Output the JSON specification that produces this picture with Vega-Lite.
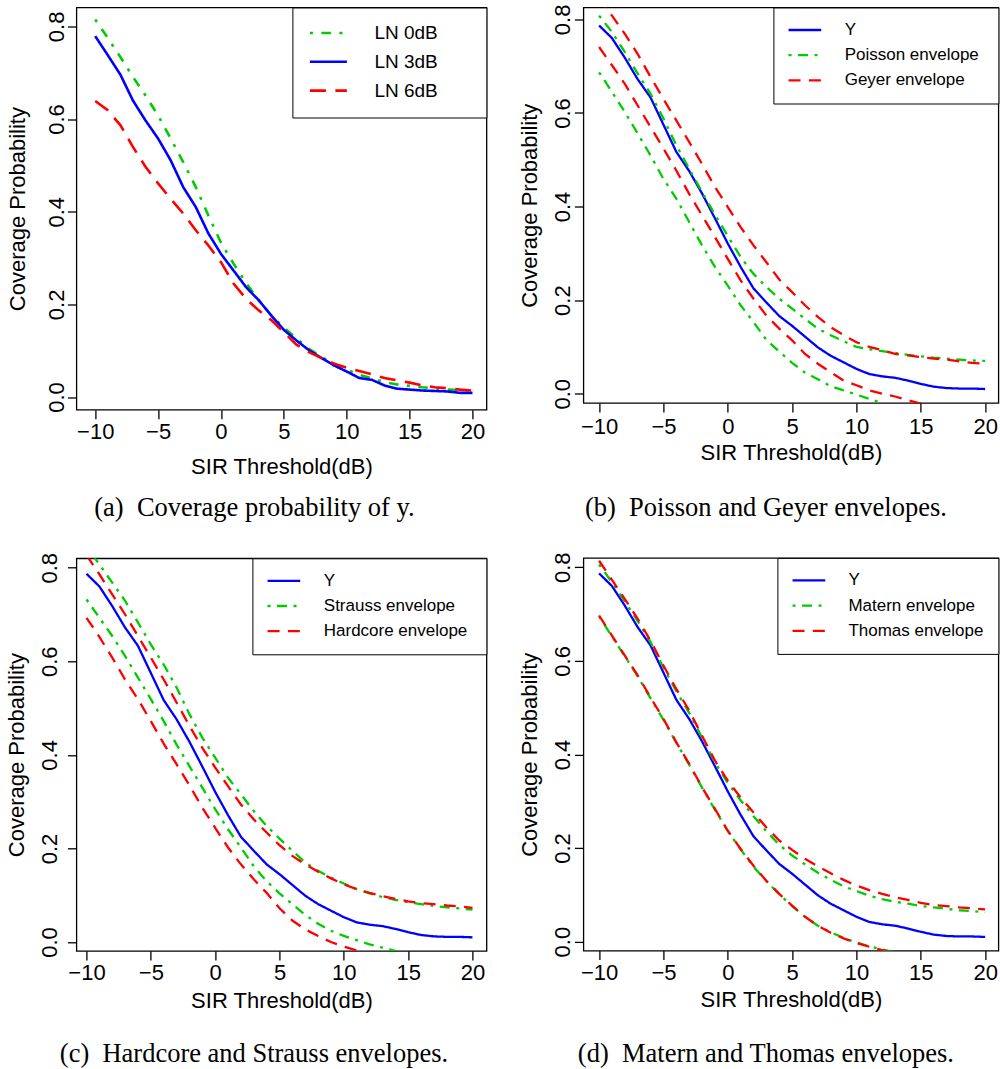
{
"$schema": "https://vega.github.io/schema/vega-lite/v6.json",
"background": "white",
"padding": {"left": 4.4, "top": 2.5, "right": 0, "bottom": 0},
"resolve": {"scale": {"x": "independent", "y": "independent", "color": "independent", "strokeDash": "independent"}, "legend": {"color": "independent", "strokeDash": "independent"}},
"datasets": {
"a": [
{"s":"LN 0dB","x":-10,"v":0.815},{"s":"LN 0dB","x":-9,"v":0.775},{"s":"LN 0dB","x":-8,"v":0.734},{"s":"LN 0dB","x":-7,"v":0.691},{"s":"LN 0dB","x":-6,"v":0.651},{"s":"LN 0dB","x":-5,"v":0.608},{"s":"LN 0dB","x":-4,"v":0.558},{"s":"LN 0dB","x":-3,"v":0.507},{"s":"LN 0dB","x":-2,"v":0.453},{"s":"LN 0dB","x":-1,"v":0.392},{"s":"LN 0dB","x":0,"v":0.333},{"s":"LN 0dB","x":1,"v":0.288},{"s":"LN 0dB","x":2,"v":0.246},{"s":"LN 0dB","x":3,"v":0.209},{"s":"LN 0dB","x":4,"v":0.176},{"s":"LN 0dB","x":5,"v":0.150},{"s":"LN 0dB","x":6,"v":0.126},{"s":"LN 0dB","x":7,"v":0.104},{"s":"LN 0dB","x":8,"v":0.086},{"s":"LN 0dB","x":9,"v":0.072},{"s":"LN 0dB","x":10,"v":0.059},{"s":"LN 0dB","x":11,"v":0.048},{"s":"LN 0dB","x":12,"v":0.040},{"s":"LN 0dB","x":13,"v":0.032},{"s":"LN 0dB","x":14,"v":0.027},{"s":"LN 0dB","x":15,"v":0.024},{"s":"LN 0dB","x":16,"v":0.021},{"s":"LN 0dB","x":17,"v":0.019},{"s":"LN 0dB","x":18,"v":0.016},{"s":"LN 0dB","x":19,"v":0.015},{"s":"LN 0dB","x":20,"v":0.014},
{"s":"LN 3dB","x":-10,"v":0.779},{"s":"LN 3dB","x":-9,"v":0.738},{"s":"LN 3dB","x":-8,"v":0.696},{"s":"LN 3dB","x":-7,"v":0.640},{"s":"LN 3dB","x":-6,"v":0.597},{"s":"LN 3dB","x":-5,"v":0.558},{"s":"LN 3dB","x":-4,"v":0.511},{"s":"LN 3dB","x":-3,"v":0.453},{"s":"LN 3dB","x":-2,"v":0.410},{"s":"LN 3dB","x":-1,"v":0.353},{"s":"LN 3dB","x":0,"v":0.309},{"s":"LN 3dB","x":1,"v":0.273},{"s":"LN 3dB","x":2,"v":0.237},{"s":"LN 3dB","x":3,"v":0.209},{"s":"LN 3dB","x":4,"v":0.176},{"s":"LN 3dB","x":5,"v":0.145},{"s":"LN 3dB","x":6,"v":0.122},{"s":"LN 3dB","x":7,"v":0.101},{"s":"LN 3dB","x":8,"v":0.084},{"s":"LN 3dB","x":9,"v":0.068},{"s":"LN 3dB","x":10,"v":0.055},{"s":"LN 3dB","x":11,"v":0.041},{"s":"LN 3dB","x":12,"v":0.037},{"s":"LN 3dB","x":13,"v":0.025},{"s":"LN 3dB","x":14,"v":0.018},{"s":"LN 3dB","x":15,"v":0.016},{"s":"LN 3dB","x":16,"v":0.014},{"s":"LN 3dB","x":17,"v":0.013},{"s":"LN 3dB","x":18,"v":0.012},{"s":"LN 3dB","x":19,"v":0.009},{"s":"LN 3dB","x":20,"v":0.009},
{"s":"LN 6dB","x":-10,"v":0.639},{"s":"LN 6dB","x":-9,"v":0.619},{"s":"LN 6dB","x":-8,"v":0.587},{"s":"LN 6dB","x":-7,"v":0.540},{"s":"LN 6dB","x":-6,"v":0.497},{"s":"LN 6dB","x":-5,"v":0.461},{"s":"LN 6dB","x":-4,"v":0.428},{"s":"LN 6dB","x":-3,"v":0.396},{"s":"LN 6dB","x":-2,"v":0.360},{"s":"LN 6dB","x":-1,"v":0.327},{"s":"LN 6dB","x":0,"v":0.291},{"s":"LN 6dB","x":1,"v":0.245},{"s":"LN 6dB","x":2,"v":0.212},{"s":"LN 6dB","x":3,"v":0.187},{"s":"LN 6dB","x":4,"v":0.166},{"s":"LN 6dB","x":5,"v":0.140},{"s":"LN 6dB","x":6,"v":0.113},{"s":"LN 6dB","x":7,"v":0.097},{"s":"LN 6dB","x":8,"v":0.084},{"s":"LN 6dB","x":9,"v":0.072},{"s":"LN 6dB","x":10,"v":0.063},{"s":"LN 6dB","x":11,"v":0.056},{"s":"LN 6dB","x":12,"v":0.049},{"s":"LN 6dB","x":13,"v":0.041},{"s":"LN 6dB","x":14,"v":0.036},{"s":"LN 6dB","x":15,"v":0.031},{"s":"LN 6dB","x":16,"v":0.025},{"s":"LN 6dB","x":17,"v":0.021},{"s":"LN 6dB","x":18,"v":0.019},{"s":"LN 6dB","x":19,"v":0.016},{"s":"LN 6dB","x":20,"v":0.014}
],
"Y": [
{"s":"Y","b":"m","x":-10,"v":0.787},{"s":"Y","b":"m","x":-9,"v":0.760},{"s":"Y","b":"m","x":-8,"v":0.718},{"s":"Y","b":"m","x":-7,"v":0.672},{"s":"Y","b":"m","x":-6,"v":0.633},{"s":"Y","b":"m","x":-5,"v":0.575},{"s":"Y","b":"m","x":-4,"v":0.517},{"s":"Y","b":"m","x":-3,"v":0.476},{"s":"Y","b":"m","x":-2,"v":0.428},{"s":"Y","b":"m","x":-1,"v":0.375},{"s":"Y","b":"m","x":0,"v":0.321},{"s":"Y","b":"m","x":1,"v":0.271},{"s":"Y","b":"m","x":2,"v":0.225},{"s":"Y","b":"m","x":3,"v":0.195},{"s":"Y","b":"m","x":4,"v":0.166},{"s":"Y","b":"m","x":5,"v":0.145},{"s":"Y","b":"m","x":6,"v":0.122},{"s":"Y","b":"m","x":7,"v":0.099},{"s":"Y","b":"m","x":8,"v":0.081},{"s":"Y","b":"m","x":9,"v":0.067},{"s":"Y","b":"m","x":10,"v":0.053},{"s":"Y","b":"m","x":11,"v":0.042},{"s":"Y","b":"m","x":12,"v":0.037},{"s":"Y","b":"m","x":13,"v":0.034},{"s":"Y","b":"m","x":14,"v":0.028},{"s":"Y","b":"m","x":15,"v":0.021},{"s":"Y","b":"m","x":16,"v":0.015},{"s":"Y","b":"m","x":17,"v":0.012},{"s":"Y","b":"m","x":18,"v":0.011},{"s":"Y","b":"m","x":19,"v":0.011},{"s":"Y","b":"m","x":20,"v":0.010}
],
"b": [
{"s":"Poisson envelope","b":"u","x":-10,"v":0.808},{"s":"Poisson envelope","b":"u","x":-9,"v":0.773},{"s":"Poisson envelope","b":"u","x":-8,"v":0.730},{"s":"Poisson envelope","b":"u","x":-7,"v":0.684},{"s":"Poisson envelope","b":"u","x":-6,"v":0.641},{"s":"Poisson envelope","b":"u","x":-5,"v":0.588},{"s":"Poisson envelope","b":"u","x":-4,"v":0.531},{"s":"Poisson envelope","b":"u","x":-3,"v":0.481},{"s":"Poisson envelope","b":"u","x":-2,"v":0.431},{"s":"Poisson envelope","b":"u","x":-1,"v":0.383},{"s":"Poisson envelope","b":"u","x":0,"v":0.337},{"s":"Poisson envelope","b":"u","x":1,"v":0.292},{"s":"Poisson envelope","b":"u","x":2,"v":0.256},{"s":"Poisson envelope","b":"u","x":3,"v":0.228},{"s":"Poisson envelope","b":"u","x":4,"v":0.203},{"s":"Poisson envelope","b":"u","x":5,"v":0.182},{"s":"Poisson envelope","b":"u","x":6,"v":0.160},{"s":"Poisson envelope","b":"u","x":7,"v":0.139},{"s":"Poisson envelope","b":"u","x":8,"v":0.125},{"s":"Poisson envelope","b":"u","x":9,"v":0.112},{"s":"Poisson envelope","b":"u","x":10,"v":0.100},{"s":"Poisson envelope","b":"u","x":11,"v":0.095},{"s":"Poisson envelope","b":"u","x":12,"v":0.091},{"s":"Poisson envelope","b":"u","x":13,"v":0.087},{"s":"Poisson envelope","b":"u","x":14,"v":0.083},{"s":"Poisson envelope","b":"u","x":15,"v":0.080},{"s":"Poisson envelope","b":"u","x":16,"v":0.077},{"s":"Poisson envelope","b":"u","x":17,"v":0.075},{"s":"Poisson envelope","b":"u","x":18,"v":0.073},{"s":"Poisson envelope","b":"u","x":19,"v":0.071},{"s":"Poisson envelope","b":"u","x":20,"v":0.070},
{"s":"Poisson envelope","b":"l","x":-10,"v":0.687},{"s":"Poisson envelope","b":"l","x":-9,"v":0.645},{"s":"Poisson envelope","b":"l","x":-8,"v":0.602},{"s":"Poisson envelope","b":"l","x":-7,"v":0.556},{"s":"Poisson envelope","b":"l","x":-6,"v":0.509},{"s":"Poisson envelope","b":"l","x":-5,"v":0.459},{"s":"Poisson envelope","b":"l","x":-4,"v":0.417},{"s":"Poisson envelope","b":"l","x":-3,"v":0.367},{"s":"Poisson envelope","b":"l","x":-2,"v":0.317},{"s":"Poisson envelope","b":"l","x":-1,"v":0.271},{"s":"Poisson envelope","b":"l","x":0,"v":0.231},{"s":"Poisson envelope","b":"l","x":1,"v":0.189},{"s":"Poisson envelope","b":"l","x":2,"v":0.153},{"s":"Poisson envelope","b":"l","x":3,"v":0.115},{"s":"Poisson envelope","b":"l","x":4,"v":0.090},{"s":"Poisson envelope","b":"l","x":5,"v":0.066},{"s":"Poisson envelope","b":"l","x":6,"v":0.045},{"s":"Poisson envelope","b":"l","x":7,"v":0.031},{"s":"Poisson envelope","b":"l","x":8,"v":0.016},{"s":"Poisson envelope","b":"l","x":9,"v":0.007},{"s":"Poisson envelope","b":"l","x":10,"v":-0.002},{"s":"Poisson envelope","b":"l","x":11,"v":-0.011},{"s":"Poisson envelope","b":"l","x":12,"v":-0.020},{"s":"Poisson envelope","b":"l","x":13,"v":-0.028},
{"s":"Geyer envelope","b":"u","x":-10,"v":0.846},{"s":"Geyer envelope","b":"u","x":-9,"v":0.808},{"s":"Geyer envelope","b":"u","x":-8,"v":0.769},{"s":"Geyer envelope","b":"u","x":-7,"v":0.726},{"s":"Geyer envelope","b":"u","x":-6,"v":0.677},{"s":"Geyer envelope","b":"u","x":-5,"v":0.630},{"s":"Geyer envelope","b":"u","x":-4,"v":0.584},{"s":"Geyer envelope","b":"u","x":-3,"v":0.538},{"s":"Geyer envelope","b":"u","x":-2,"v":0.491},{"s":"Geyer envelope","b":"u","x":-1,"v":0.442},{"s":"Geyer envelope","b":"u","x":0,"v":0.399},{"s":"Geyer envelope","b":"u","x":1,"v":0.356},{"s":"Geyer envelope","b":"u","x":2,"v":0.317},{"s":"Geyer envelope","b":"u","x":3,"v":0.281},{"s":"Geyer envelope","b":"u","x":4,"v":0.244},{"s":"Geyer envelope","b":"u","x":5,"v":0.217},{"s":"Geyer envelope","b":"u","x":6,"v":0.189},{"s":"Geyer envelope","b":"u","x":7,"v":0.164},{"s":"Geyer envelope","b":"u","x":8,"v":0.142},{"s":"Geyer envelope","b":"u","x":9,"v":0.125},{"s":"Geyer envelope","b":"u","x":10,"v":0.110},{"s":"Geyer envelope","b":"u","x":11,"v":0.100},{"s":"Geyer envelope","b":"u","x":12,"v":0.093},{"s":"Geyer envelope","b":"u","x":13,"v":0.085},{"s":"Geyer envelope","b":"u","x":14,"v":0.082},{"s":"Geyer envelope","b":"u","x":15,"v":0.078},{"s":"Geyer envelope","b":"u","x":16,"v":0.075},{"s":"Geyer envelope","b":"u","x":17,"v":0.073},{"s":"Geyer envelope","b":"u","x":18,"v":0.069},{"s":"Geyer envelope","b":"u","x":19,"v":0.066},{"s":"Geyer envelope","b":"u","x":20,"v":0.064},
{"s":"Geyer envelope","b":"l","x":-10,"v":0.741},{"s":"Geyer envelope","b":"l","x":-9,"v":0.702},{"s":"Geyer envelope","b":"l","x":-8,"v":0.662},{"s":"Geyer envelope","b":"l","x":-7,"v":0.616},{"s":"Geyer envelope","b":"l","x":-6,"v":0.570},{"s":"Geyer envelope","b":"l","x":-5,"v":0.524},{"s":"Geyer envelope","b":"l","x":-4,"v":0.477},{"s":"Geyer envelope","b":"l","x":-3,"v":0.427},{"s":"Geyer envelope","b":"l","x":-2,"v":0.381},{"s":"Geyer envelope","b":"l","x":-1,"v":0.335},{"s":"Geyer envelope","b":"l","x":0,"v":0.288},{"s":"Geyer envelope","b":"l","x":1,"v":0.242},{"s":"Geyer envelope","b":"l","x":2,"v":0.203},{"s":"Geyer envelope","b":"l","x":3,"v":0.167},{"s":"Geyer envelope","b":"l","x":4,"v":0.139},{"s":"Geyer envelope","b":"l","x":5,"v":0.114},{"s":"Geyer envelope","b":"l","x":6,"v":0.085},{"s":"Geyer envelope","b":"l","x":7,"v":0.064},{"s":"Geyer envelope","b":"l","x":8,"v":0.046},{"s":"Geyer envelope","b":"l","x":9,"v":0.028},{"s":"Geyer envelope","b":"l","x":10,"v":0.018},{"s":"Geyer envelope","b":"l","x":11,"v":0.007},{"s":"Geyer envelope","b":"l","x":12,"v":0.000},{"s":"Geyer envelope","b":"l","x":13,"v":-0.006},{"s":"Geyer envelope","b":"l","x":14,"v":-0.014},{"s":"Geyer envelope","b":"l","x":15,"v":-0.021},{"s":"Geyer envelope","b":"l","x":16,"v":-0.027}
],
"c": [
{"s":"Strauss envelope","b":"u","x":-10,"v":0.845},{"s":"Strauss envelope","b":"u","x":-9,"v":0.807},{"s":"Strauss envelope","b":"u","x":-8,"v":0.768},{"s":"Strauss envelope","b":"u","x":-7,"v":0.729},{"s":"Strauss envelope","b":"u","x":-6,"v":0.683},{"s":"Strauss envelope","b":"u","x":-5,"v":0.636},{"s":"Strauss envelope","b":"u","x":-4,"v":0.593},{"s":"Strauss envelope","b":"u","x":-3,"v":0.544},{"s":"Strauss envelope","b":"u","x":-2,"v":0.487},{"s":"Strauss envelope","b":"u","x":-1,"v":0.437},{"s":"Strauss envelope","b":"u","x":0,"v":0.394},{"s":"Strauss envelope","b":"u","x":1,"v":0.351},{"s":"Strauss envelope","b":"u","x":2,"v":0.316},{"s":"Strauss envelope","b":"u","x":3,"v":0.280},{"s":"Strauss envelope","b":"u","x":4,"v":0.248},{"s":"Strauss envelope","b":"u","x":5,"v":0.221},{"s":"Strauss envelope","b":"u","x":6,"v":0.195},{"s":"Strauss envelope","b":"u","x":7,"v":0.170},{"s":"Strauss envelope","b":"u","x":8,"v":0.152},{"s":"Strauss envelope","b":"u","x":9,"v":0.138},{"s":"Strauss envelope","b":"u","x":10,"v":0.125},{"s":"Strauss envelope","b":"u","x":11,"v":0.113},{"s":"Strauss envelope","b":"u","x":12,"v":0.104},{"s":"Strauss envelope","b":"u","x":13,"v":0.096},{"s":"Strauss envelope","b":"u","x":14,"v":0.090},{"s":"Strauss envelope","b":"u","x":15,"v":0.085},{"s":"Strauss envelope","b":"u","x":16,"v":0.081},{"s":"Strauss envelope","b":"u","x":17,"v":0.077},{"s":"Strauss envelope","b":"u","x":18,"v":0.074},{"s":"Strauss envelope","b":"u","x":19,"v":0.072},{"s":"Strauss envelope","b":"u","x":20,"v":0.069},
{"s":"Strauss envelope","b":"l","x":-10,"v":0.732},{"s":"Strauss envelope","b":"l","x":-9,"v":0.693},{"s":"Strauss envelope","b":"l","x":-8,"v":0.654},{"s":"Strauss envelope","b":"l","x":-7,"v":0.611},{"s":"Strauss envelope","b":"l","x":-6,"v":0.565},{"s":"Strauss envelope","b":"l","x":-5,"v":0.519},{"s":"Strauss envelope","b":"l","x":-4,"v":0.472},{"s":"Strauss envelope","b":"l","x":-3,"v":0.422},{"s":"Strauss envelope","b":"l","x":-2,"v":0.376},{"s":"Strauss envelope","b":"l","x":-1,"v":0.330},{"s":"Strauss envelope","b":"l","x":0,"v":0.284},{"s":"Strauss envelope","b":"l","x":1,"v":0.241},{"s":"Strauss envelope","b":"l","x":2,"v":0.202},{"s":"Strauss envelope","b":"l","x":3,"v":0.162},{"s":"Strauss envelope","b":"l","x":4,"v":0.130},{"s":"Strauss envelope","b":"l","x":5,"v":0.104},{"s":"Strauss envelope","b":"l","x":6,"v":0.081},{"s":"Strauss envelope","b":"l","x":7,"v":0.058},{"s":"Strauss envelope","b":"l","x":8,"v":0.039},{"s":"Strauss envelope","b":"l","x":9,"v":0.024},{"s":"Strauss envelope","b":"l","x":10,"v":0.013},{"s":"Strauss envelope","b":"l","x":11,"v":0.004},{"s":"Strauss envelope","b":"l","x":12,"v":-0.005},{"s":"Strauss envelope","b":"l","x":13,"v":-0.012},{"s":"Strauss envelope","b":"l","x":14,"v":-0.019},{"s":"Strauss envelope","b":"l","x":15,"v":-0.025},
{"s":"Hardcore envelope","b":"u","x":-10,"v":0.827},{"s":"Hardcore envelope","b":"u","x":-9,"v":0.786},{"s":"Hardcore envelope","b":"u","x":-8,"v":0.743},{"s":"Hardcore envelope","b":"u","x":-7,"v":0.700},{"s":"Hardcore envelope","b":"u","x":-6,"v":0.654},{"s":"Hardcore envelope","b":"u","x":-5,"v":0.608},{"s":"Hardcore envelope","b":"u","x":-4,"v":0.561},{"s":"Hardcore envelope","b":"u","x":-3,"v":0.512},{"s":"Hardcore envelope","b":"u","x":-2,"v":0.462},{"s":"Hardcore envelope","b":"u","x":-1,"v":0.415},{"s":"Hardcore envelope","b":"u","x":0,"v":0.373},{"s":"Hardcore envelope","b":"u","x":1,"v":0.333},{"s":"Hardcore envelope","b":"u","x":2,"v":0.294},{"s":"Hardcore envelope","b":"u","x":3,"v":0.262},{"s":"Hardcore envelope","b":"u","x":4,"v":0.234},{"s":"Hardcore envelope","b":"u","x":5,"v":0.207},{"s":"Hardcore envelope","b":"u","x":6,"v":0.184},{"s":"Hardcore envelope","b":"u","x":7,"v":0.166},{"s":"Hardcore envelope","b":"u","x":8,"v":0.150},{"s":"Hardcore envelope","b":"u","x":9,"v":0.136},{"s":"Hardcore envelope","b":"u","x":10,"v":0.123},{"s":"Hardcore envelope","b":"u","x":11,"v":0.113},{"s":"Hardcore envelope","b":"u","x":12,"v":0.105},{"s":"Hardcore envelope","b":"u","x":13,"v":0.098},{"s":"Hardcore envelope","b":"u","x":14,"v":0.092},{"s":"Hardcore envelope","b":"u","x":15,"v":0.087},{"s":"Hardcore envelope","b":"u","x":16,"v":0.083},{"s":"Hardcore envelope","b":"u","x":17,"v":0.081},{"s":"Hardcore envelope","b":"u","x":18,"v":0.078},{"s":"Hardcore envelope","b":"u","x":19,"v":0.076},{"s":"Hardcore envelope","b":"u","x":20,"v":0.073},
{"s":"Hardcore envelope","b":"l","x":-10,"v":0.693},{"s":"Hardcore envelope","b":"l","x":-9,"v":0.652},{"s":"Hardcore envelope","b":"l","x":-8,"v":0.608},{"s":"Hardcore envelope","b":"l","x":-7,"v":0.561},{"s":"Hardcore envelope","b":"l","x":-6,"v":0.519},{"s":"Hardcore envelope","b":"l","x":-5,"v":0.472},{"s":"Hardcore envelope","b":"l","x":-4,"v":0.424},{"s":"Hardcore envelope","b":"l","x":-3,"v":0.380},{"s":"Hardcore envelope","b":"l","x":-2,"v":0.335},{"s":"Hardcore envelope","b":"l","x":-1,"v":0.287},{"s":"Hardcore envelope","b":"l","x":0,"v":0.244},{"s":"Hardcore envelope","b":"l","x":1,"v":0.202},{"s":"Hardcore envelope","b":"l","x":2,"v":0.166},{"s":"Hardcore envelope","b":"l","x":3,"v":0.134},{"s":"Hardcore envelope","b":"l","x":4,"v":0.105},{"s":"Hardcore envelope","b":"l","x":5,"v":0.072},{"s":"Hardcore envelope","b":"l","x":6,"v":0.046},{"s":"Hardcore envelope","b":"l","x":7,"v":0.027},{"s":"Hardcore envelope","b":"l","x":8,"v":0.013},{"s":"Hardcore envelope","b":"l","x":9,"v":0.000},{"s":"Hardcore envelope","b":"l","x":10,"v":-0.010},{"s":"Hardcore envelope","b":"l","x":11,"v":-0.018},{"s":"Hardcore envelope","b":"l","x":12,"v":-0.025}
],
"d": [
{"s":"Matern envelope","b":"u","x":-10,"v":0.806},{"s":"Matern envelope","b":"u","x":-9,"v":0.768},{"s":"Matern envelope","b":"u","x":-8,"v":0.727},{"s":"Matern envelope","b":"u","x":-7,"v":0.685},{"s":"Matern envelope","b":"u","x":-6,"v":0.640},{"s":"Matern envelope","b":"u","x":-5,"v":0.586},{"s":"Matern envelope","b":"u","x":-4,"v":0.535},{"s":"Matern envelope","b":"u","x":-3,"v":0.489},{"s":"Matern envelope","b":"u","x":-2,"v":0.436},{"s":"Matern envelope","b":"u","x":-1,"v":0.383},{"s":"Matern envelope","b":"u","x":0,"v":0.339},{"s":"Matern envelope","b":"u","x":1,"v":0.302},{"s":"Matern envelope","b":"u","x":2,"v":0.268},{"s":"Matern envelope","b":"u","x":3,"v":0.236},{"s":"Matern envelope","b":"u","x":4,"v":0.207},{"s":"Matern envelope","b":"u","x":5,"v":0.184},{"s":"Matern envelope","b":"u","x":6,"v":0.165},{"s":"Matern envelope","b":"u","x":7,"v":0.147},{"s":"Matern envelope","b":"u","x":8,"v":0.132},{"s":"Matern envelope","b":"u","x":9,"v":0.118},{"s":"Matern envelope","b":"u","x":10,"v":0.108},{"s":"Matern envelope","b":"u","x":11,"v":0.098},{"s":"Matern envelope","b":"u","x":12,"v":0.091},{"s":"Matern envelope","b":"u","x":13,"v":0.085},{"s":"Matern envelope","b":"u","x":14,"v":0.081},{"s":"Matern envelope","b":"u","x":15,"v":0.076},{"s":"Matern envelope","b":"u","x":16,"v":0.073},{"s":"Matern envelope","b":"u","x":17,"v":0.070},{"s":"Matern envelope","b":"u","x":18,"v":0.067},{"s":"Matern envelope","b":"u","x":19,"v":0.065},{"s":"Matern envelope","b":"u","x":20,"v":0.063},
{"s":"Matern envelope","b":"l","x":-10,"v":0.695},{"s":"Matern envelope","b":"l","x":-9,"v":0.652},{"s":"Matern envelope","b":"l","x":-8,"v":0.610},{"s":"Matern envelope","b":"l","x":-7,"v":0.567},{"s":"Matern envelope","b":"l","x":-6,"v":0.520},{"s":"Matern envelope","b":"l","x":-5,"v":0.474},{"s":"Matern envelope","b":"l","x":-4,"v":0.425},{"s":"Matern envelope","b":"l","x":-3,"v":0.378},{"s":"Matern envelope","b":"l","x":-2,"v":0.329},{"s":"Matern envelope","b":"l","x":-1,"v":0.282},{"s":"Matern envelope","b":"l","x":0,"v":0.236},{"s":"Matern envelope","b":"l","x":1,"v":0.197},{"s":"Matern envelope","b":"l","x":2,"v":0.160},{"s":"Matern envelope","b":"l","x":3,"v":0.129},{"s":"Matern envelope","b":"l","x":4,"v":0.101},{"s":"Matern envelope","b":"l","x":5,"v":0.076},{"s":"Matern envelope","b":"l","x":6,"v":0.053},{"s":"Matern envelope","b":"l","x":7,"v":0.034},{"s":"Matern envelope","b":"l","x":8,"v":0.020},{"s":"Matern envelope","b":"l","x":9,"v":0.008},{"s":"Matern envelope","b":"l","x":10,"v":-0.002},{"s":"Matern envelope","b":"l","x":11,"v":-0.010},{"s":"Matern envelope","b":"l","x":12,"v":-0.017},{"s":"Matern envelope","b":"l","x":13,"v":-0.023},
{"s":"Thomas envelope","b":"u","x":-10,"v":0.814},{"s":"Thomas envelope","b":"u","x":-9,"v":0.773},{"s":"Thomas envelope","b":"u","x":-8,"v":0.732},{"s":"Thomas envelope","b":"u","x":-7,"v":0.690},{"s":"Thomas envelope","b":"u","x":-6,"v":0.643},{"s":"Thomas envelope","b":"u","x":-5,"v":0.590},{"s":"Thomas envelope","b":"u","x":-4,"v":0.540},{"s":"Thomas envelope","b":"u","x":-3,"v":0.494},{"s":"Thomas envelope","b":"u","x":-2,"v":0.440},{"s":"Thomas envelope","b":"u","x":-1,"v":0.387},{"s":"Thomas envelope","b":"u","x":0,"v":0.344},{"s":"Thomas envelope","b":"u","x":1,"v":0.308},{"s":"Thomas envelope","b":"u","x":2,"v":0.276},{"s":"Thomas envelope","b":"u","x":3,"v":0.244},{"s":"Thomas envelope","b":"u","x":4,"v":0.216},{"s":"Thomas envelope","b":"u","x":5,"v":0.196},{"s":"Thomas envelope","b":"u","x":6,"v":0.177},{"s":"Thomas envelope","b":"u","x":7,"v":0.161},{"s":"Thomas envelope","b":"u","x":8,"v":0.146},{"s":"Thomas envelope","b":"u","x":9,"v":0.132},{"s":"Thomas envelope","b":"u","x":10,"v":0.120},{"s":"Thomas envelope","b":"u","x":11,"v":0.110},{"s":"Thomas envelope","b":"u","x":12,"v":0.102},{"s":"Thomas envelope","b":"u","x":13,"v":0.095},{"s":"Thomas envelope","b":"u","x":14,"v":0.089},{"s":"Thomas envelope","b":"u","x":15,"v":0.083},{"s":"Thomas envelope","b":"u","x":16,"v":0.078},{"s":"Thomas envelope","b":"u","x":17,"v":0.076},{"s":"Thomas envelope","b":"u","x":18,"v":0.073},{"s":"Thomas envelope","b":"u","x":19,"v":0.071},{"s":"Thomas envelope","b":"u","x":20,"v":0.069},
{"s":"Thomas envelope","b":"l","x":-10,"v":0.697},{"s":"Thomas envelope","b":"l","x":-9,"v":0.654},{"s":"Thomas envelope","b":"l","x":-8,"v":0.611},{"s":"Thomas envelope","b":"l","x":-7,"v":0.569},{"s":"Thomas envelope","b":"l","x":-6,"v":0.522},{"s":"Thomas envelope","b":"l","x":-5,"v":0.476},{"s":"Thomas envelope","b":"l","x":-4,"v":0.426},{"s":"Thomas envelope","b":"l","x":-3,"v":0.380},{"s":"Thomas envelope","b":"l","x":-2,"v":0.330},{"s":"Thomas envelope","b":"l","x":-1,"v":0.284},{"s":"Thomas envelope","b":"l","x":0,"v":0.237},{"s":"Thomas envelope","b":"l","x":1,"v":0.198},{"s":"Thomas envelope","b":"l","x":2,"v":0.162},{"s":"Thomas envelope","b":"l","x":3,"v":0.130},{"s":"Thomas envelope","b":"l","x":4,"v":0.102},{"s":"Thomas envelope","b":"l","x":5,"v":0.077},{"s":"Thomas envelope","b":"l","x":6,"v":0.053},{"s":"Thomas envelope","b":"l","x":7,"v":0.034},{"s":"Thomas envelope","b":"l","x":8,"v":0.019},{"s":"Thomas envelope","b":"l","x":9,"v":0.007},{"s":"Thomas envelope","b":"l","x":10,"v":-0.003},{"s":"Thomas envelope","b":"l","x":11,"v":-0.011},{"s":"Thomas envelope","b":"l","x":12,"v":-0.018},{"s":"Thomas envelope","b":"l","x":13,"v":-0.023}
]
},
"spacing": 29,
"hconcat": [
{"spacing": 28.8, "resolve": {"scale": {"x": "independent", "y": "independent", "color": "independent", "strokeDash": "independent"}, "legend": {"color": "independent", "strokeDash": "independent"}}, "vconcat": [
{
"width": 410.1, "height": 402.2,
"title": {"text": "(a)\u2002Coverage probability of y.", "offset": 17, "dx": -27},
"data": {"name": "a"},
"encoding": {
"x": {"field": "x", "type": "quantitative", "scale": {"domain": [-11.495, 21.113], "nice": false, "zero": false}, "axis": {"title": "SIR Threshold(dB)", "values": [-10, -5, 0, 5, 10, 15, 20], "labelPadding": 3, "titlePadding": 14}},
"y": {"field": "v", "type": "quantitative", "scale": {"domain": [-0.0274, 0.8408], "nice": false, "zero": false}, "axis": {"title": "Coverage Probability", "values": [0, 0.2, 0.4, 0.6, 0.8], "format": ".1f", "labelPadding": 4, "titlePadding": 16}},
"color": {"field": "s", "type": "nominal", "scale": {"domain": ["LN 0dB", "LN 3dB", "LN 6dB"], "range": ["#00CD00", "#0000FF", "#FF0000"]}, "legend": {"title": null, "orient": "top-right", "offset": 0, "padding": 16, "rowPadding": 8.8, "clipHeight": 19, "labelFontSize": 19, "symbolSize": 1369, "symbolStrokeWidth": 2.6, "labelOffset": 26, "labelExpr": "datum.label + '\u00a0\u00a0\u00a0\u00a0\u00a0\u00a0\u200b'"}},
"strokeDash": {"field": "s", "type": "nominal", "scale": {"domain": ["LN 0dB", "LN 3dB", "LN 6dB"], "range": [[3, 8.5, 9.5, 8.5], [1, 0], [16, 9.5]]}, "legend": {"title": null, "orient": "top-right", "offset": 0, "padding": 16, "rowPadding": 8.8, "clipHeight": 19, "labelFontSize": 19, "symbolSize": 1369, "symbolStrokeWidth": 2.6, "labelOffset": 26, "labelExpr": "datum.label + '\u00a0\u00a0\u00a0\u00a0\u00a0\u00a0\u200b'"}}
},
"layer": [
{"transform": [{"filter": "datum.s === 'LN 0dB'"}], "mark": {"type": "line", "clip": true, "strokeWidth": 2.6}},
{"transform": [{"filter": "datum.s === 'LN 3dB'"}], "mark": {"type": "line", "clip": true, "strokeWidth": 2.6}},
{"transform": [{"filter": "datum.s === 'LN 6dB'"}], "mark": {"type": "line", "clip": true, "strokeWidth": 2.6}}
]
},
{
"width": 410.1, "height": 392.7,
"title": {"text": "(c)\u2002Hardcore and Strauss envelopes.", "offset": 30, "dx": -27.5},
"encoding": {
"x": {"field": "x", "type": "quantitative", "scale": {"domain": [-10.785, 21.088], "nice": false, "zero": false}, "axis": {"title": "SIR Threshold(dB)", "values": [-10, -5, 0, 5, 10, 15, 20], "labelPadding": 2.8, "titlePadding": 6.6}},
"y": {"field": "v", "type": "quantitative", "scale": {"domain": [-0.0192, 0.8201], "nice": false, "zero": false}, "axis": {"title": "Coverage Probability", "values": [0, 0.2, 0.4, 0.6, 0.8], "format": ".1f", "labelPadding": 10.8, "titlePadding": 10}},
"color": {"field": "s", "type": "nominal", "scale": {"domain": ["Y", "Strauss envelope", "Hardcore envelope"], "range": ["#0000FF", "#00CD00", "#FF0000"]}, "legend": {"title": null, "orient": "top-right", "offset": 0, "padding": 14, "rowPadding": 7.2, "clipHeight": 17, "labelFontSize": 17, "symbolSize": 1069, "symbolStrokeWidth": 2.3, "labelOffset": 22.4, "labelExpr": "datum.label + '\u00a0\u200b'"}},
"strokeDash": {"field": "s", "type": "nominal", "scale": {"domain": ["Y", "Strauss envelope", "Hardcore envelope"], "range": [[1, 0], [3, 6.5, 10, 6.5], [12, 8.3]]}, "legend": {"title": null, "orient": "top-right", "offset": 0, "padding": 14, "rowPadding": 7.2, "clipHeight": 17, "labelFontSize": 17, "symbolSize": 1069, "symbolStrokeWidth": 2.3, "labelOffset": 22.4, "labelExpr": "datum.label + '\u00a0\u200b'"}},
"detail": {"field": "b"}
},
"layer": [
{"data": {"name": "Y"}, "mark": {"type": "line", "clip": true, "strokeWidth": 2.3}},
{"data": {"name": "c"}, "transform": [{"filter": "datum.s === 'Strauss envelope'"}], "mark": {"type": "line", "clip": true, "strokeWidth": 2.3}},
{"data": {"name": "c"}, "transform": [{"filter": "datum.s === 'Hardcore envelope'"}], "mark": {"type": "line", "clip": true, "strokeWidth": 2.3}}
]
}
]},
{"spacing": 28.4, "resolve": {"scale": {"x": "independent", "y": "independent", "color": "independent", "strokeDash": "independent"}, "legend": {"color": "independent", "strokeDash": "independent"}}, "vconcat": [
{
"width": 415, "height": 395.5,
"title": {"text": "(b)\u2002Poisson and Geyer envelopes.", "offset": 31, "dx": -25},
"encoding": {
"x": {"field": "x", "type": "quantitative", "scale": {"domain": [-11.22, 21.03], "nice": false, "zero": false}, "axis": {"title": "SIR Threshold(dB)", "values": [-10, -5, 0, 5, 10, 15, 20], "labelPadding": 4.6, "titlePadding": 5}},
"y": {"field": "v", "type": "quantitative", "scale": {"domain": [-0.0199, 0.8254], "nice": false, "zero": false}, "axis": {"title": "Coverage Probability", "values": [0, 0.2, 0.4, 0.6, 0.8], "format": ".1f", "labelPadding": 5, "titlePadding": 10}},
"color": {"field": "s", "type": "nominal", "scale": {"domain": ["Y", "Poisson envelope", "Geyer envelope"], "range": ["#0000FF", "#00CD00", "#FF0000"]}, "legend": {"title": null, "orient": "top-right", "offset": 0, "padding": 14, "rowPadding": 7.2, "clipHeight": 17, "labelFontSize": 17, "symbolSize": 1069, "symbolStrokeWidth": 2.3, "labelOffset": 22.3, "labelExpr": "datum.label + '\u00a0\u200b'"}},
"strokeDash": {"field": "s", "type": "nominal", "scale": {"domain": ["Y", "Poisson envelope", "Geyer envelope"], "range": [[1, 0], [3, 6.5, 10, 6.5], [12, 8.3]]}, "legend": {"title": null, "orient": "top-right", "offset": 0, "padding": 14, "rowPadding": 7.2, "clipHeight": 17, "labelFontSize": 17, "symbolSize": 1069, "symbolStrokeWidth": 2.3, "labelOffset": 22.3, "labelExpr": "datum.label + '\u00a0\u200b'"}},
"detail": {"field": "b"}
},
"layer": [
{"data": {"name": "Y"}, "mark": {"type": "line", "clip": true, "strokeWidth": 2.3}},
{"data": {"name": "b"}, "transform": [{"filter": "datum.s === 'Poisson envelope'"}], "mark": {"type": "line", "clip": true, "strokeWidth": 2.3}},
{"data": {"name": "b"}, "transform": [{"filter": "datum.s === 'Geyer envelope'"}], "mark": {"type": "line", "clip": true, "strokeWidth": 2.3}}
]
},
{
"width": 415, "height": 392.7,
"title": {"text": "(d)\u2002Matern and Thomas envelopes.", "offset": 30, "dx": -25},
"encoding": {
"x": {"field": "x", "type": "quantitative", "scale": {"domain": [-11.22, 21.03], "nice": false, "zero": false}, "axis": {"title": "SIR Threshold(dB)", "values": [-10, -5, 0, 5, 10, 15, 20], "labelPadding": 2.8, "titlePadding": 6.6}},
"y": {"field": "v", "type": "quantitative", "scale": {"domain": [-0.0192, 0.8201], "nice": false, "zero": false}, "axis": {"title": "Coverage Probability", "values": [0, 0.2, 0.4, 0.6, 0.8], "format": ".1f", "labelPadding": 5, "titlePadding": 10}},
"color": {"field": "s", "type": "nominal", "scale": {"domain": ["Y", "Matern envelope", "Thomas envelope"], "range": ["#0000FF", "#00CD00", "#FF0000"]}, "legend": {"title": null, "orient": "top-right", "offset": 0, "padding": 14, "rowPadding": 7.2, "clipHeight": 17, "labelFontSize": 17, "symbolSize": 1069, "symbolStrokeWidth": 2.3, "labelOffset": 22}},
"strokeDash": {"field": "s", "type": "nominal", "scale": {"domain": ["Y", "Matern envelope", "Thomas envelope"], "range": [[1, 0], [3, 6.5, 10, 6.5], [12, 8.3]]}, "legend": {"title": null, "orient": "top-right", "offset": 0, "padding": 14, "rowPadding": 7.2, "clipHeight": 17, "labelFontSize": 17, "symbolSize": 1069, "symbolStrokeWidth": 2.3, "labelOffset": 22}},
"detail": {"field": "b"}
},
"layer": [
{"data": {"name": "Y"}, "mark": {"type": "line", "clip": true, "strokeWidth": 2.3}},
{"data": {"name": "d"}, "transform": [{"filter": "datum.s === 'Matern envelope'"}], "mark": {"type": "line", "clip": true, "strokeWidth": 2.3}},
{"data": {"name": "d"}, "transform": [{"filter": "datum.s === 'Thomas envelope'"}], "mark": {"type": "line", "clip": true, "strokeWidth": 2.3}}
]
}
]}
],
"config": {
"font": "Liberation Sans",
"view": {"stroke": "black", "strokeWidth": 1.3},
"axis": {"domain": false, "grid": false, "ticks": true, "tickColor": "black", "tickSize": 9, "tickWidth": 1.3, "labelColor": "black", "labelFontSize": 22, "labelFont": "Liberation Sans", "titleFont": "Liberation Sans", "titleFontSize": 22, "titleFontWeight": "normal", "titleColor": "black", "labelFlush": false, "labelOverlap": false},
"axisY": {"labelAngle": 270, "labelAlign": "center", "labelBaseline": "alphabetic"},
"legend": {"strokeColor": "black", "fillColor": "white", "labelFont": "Liberation Sans", "labelColor": "black", "symbolType": "stroke", "cornerRadius": 0},
"title": {"orient": "bottom", "anchor": "middle", "frame": "group", "font": "Liberation Serif", "fontSize": 26.5, "fontWeight": "normal", "color": "black"}
}
}
